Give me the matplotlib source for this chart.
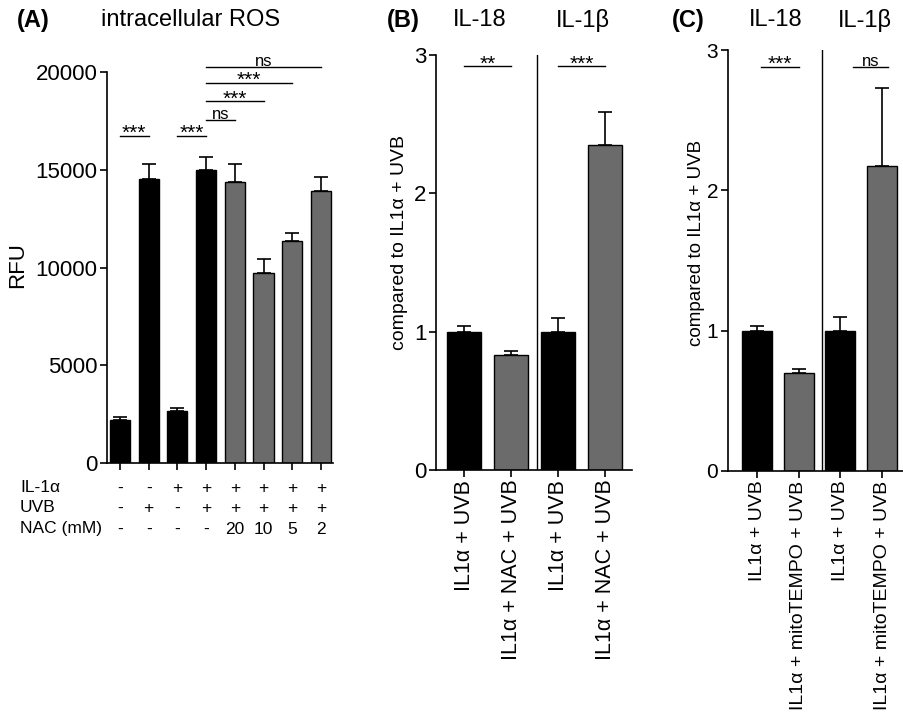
import matplotlib
matplotlib.use("Agg")
import matplotlib.pyplot as plt
import matplotlib.transforms as mtransforms

plt.rcParams["font.family"] = ["Liberation Sans", "DejaVu Sans"]

# panel A: intracellular ROS
ros_mean = [2200, 14550, 2650, 15000, 14350, 9700, 11350, 13900]
ros_err = [150, 750, 150, 650, 950, 750, 400, 750]
ros_colors = ["black"] * 4 + ["#6b6b6b"] * 4
il1a_row = ["-", "-", "+", "+", "+", "+", "+", "+"]
uvb_row = ["-", "+", "-", "+", "+", "+", "+", "+"]
nac_row = ["-", "-", "-", "-", "20", "10", "5", "2"]
row_names = ["IL-1α", "UVB", "NAC (mM)"]
# (start bar, end bar, height, label)
ros_sig = [(0, 1, 16750, "***"), (2, 3, 16750, "***"), (3, 4, 17550, "ns"),
           (3, 5, 18500, "***"), (3, 6, 19450, "***"), (3, 7, 20250, "ns")]

# panel B: NAC
nac_labels = ["IL1α + UVB", "IL1α + NAC + UVB", "IL1α + UVB", "IL1α + NAC + UVB"]
nac_mean = [1.0, 0.83, 1.0, 2.35]
nac_err = [0.04, 0.03, 0.10, 0.24]
nac_sig = [(0, 1, 2.92, "**"), (2, 3, 2.92, "***")]

# panel C: mitoTEMPO
mito_labels = ["IL1α + UVB", "IL1α + mitoTEMPO + UVB", "IL1α + UVB", "IL1α + mitoTEMPO + UVB"]
mito_mean = [1.0, 0.70, 1.0, 2.17]
mito_err = [0.03, 0.03, 0.10, 0.56]
mito_sig = [(0.1, 1.0, 2.88, "***"), (2.3, 3.15, 2.88, "ns")]

cyto_names = ["IL-18", "IL-1β"]
pair_colors = ["black", "#6b6b6b", "black", "#6b6b6b"]

W, H = 904, 715
fig = plt.figure(figsize=(W / 100, H / 100), dpi=100)


def px_axes(x0, x1, y_top, y_bot):
    return fig.add_axes([x0 / W, 1 - y_bot / H, (x1 - x0) / W, (y_bot - y_top) / H])


def fig_text(x, y, s, **kw):
    fig.text(x / W, 1 - y / H, s, **kw)


def style_axes(ax, ysize):
    for side in ["top", "right"]:
        ax.spines[side].set_visible(False)
    for side in ["left", "bottom"]:
        ax.spines[side].set_linewidth(1.2)
    ax.tick_params(width=1.2, length=5, pad=2)
    ax.tick_params(axis="y", labelsize=ysize)


def draw_bars(ax, means, errs, colors, width):
    x = list(range(len(means)))
    ax.bar(x, means, width=width, color=colors, edgecolor="black", linewidth=1.0, zorder=2)
    ax.errorbar(x, means, yerr=[[0] * len(errs), errs], fmt="none", ecolor="black",
                elinewidth=1.2, capsize=5, capthick=1.2, zorder=1)


def draw_sig(ax, items):
    for a, b, y, label in items:
        ax.plot([a, b], [y, y], color="black", lw=1.0, clip_on=False)
        if label == "ns":
            size, shift = 12, 0.8
        else:
            size, shift = 15, -2.5
        ax.annotate(label, xy=((a + b) / 2, y), xytext=(0, shift), textcoords="offset points",
                    ha="center", va="baseline", fontsize=size, annotation_clip=False)


# ---- panel A
axA = px_axes(107, 333, 72, 463)
draw_bars(axA, ros_mean, ros_err, ros_colors, 0.7)
axA.set_xlim(-0.45, 7.42)
axA.set_ylim(0, 20000)
axA.set_yticks([0, 5000, 10000, 15000, 20000])
axA.set_xticks(range(len(ros_mean)))
axA.set_xticklabels([])
style_axes(axA, 16)
draw_sig(axA, ros_sig)

trans = mtransforms.blended_transform_factory(axA.transData, fig.transFigure)
for row_y, name, values in zip([488, 508, 529], row_names, [il1a_row, uvb_row, nac_row]):
    fig_text(20, row_y, name, fontsize=12.5, va="center", ha="left")
    for i, v in enumerate(values):
        axA.text(i, 1 - row_y / H, v, transform=trans, fontsize=12.5, va="center", ha="center")

fig_text(18, 265, "RFU", fontsize=16, rotation=90, va="center", ha="center")
fig_text(33, 20, "(A)", fontsize=17, fontweight="bold", va="center", ha="center")
fig_text(191, 20, "intracellular ROS", fontsize=17, va="center", ha="center")


# ---- panels B and C
def cyto_panel(x0, x1, y_top, y_bot, xlim, means, errs, labels, sig, tag, tag_x,
               name_x, ylab_x, size, ysize, ylab_size):
    ax = px_axes(x0, x1, y_top, y_bot)
    draw_bars(ax, means, errs, pair_colors, 0.72)
    ax.set_xlim(*xlim)
    ax.set_ylim(0, 3)
    ax.set_yticks([0, 1, 2, 3])
    ax.set_xticks(range(len(means)))
    ax.set_xticklabels(labels, rotation=90, fontsize=size)
    style_axes(ax, ysize)
    ax.axvline(1.55, ymin=0, ymax=1, color="black", lw=1.0)
    draw_sig(ax, sig)
    fig_text(tag_x, 20, tag, fontsize=17, fontweight="bold", va="center", ha="center")
    for nx, nm in zip(name_x, cyto_names):
        fig_text(nx, 20, nm, fontsize=17, va="center", ha="center")
    fig_text(ylab_x, 243, "compared to IL1α + UVB", fontsize=ylab_size,
             rotation=90, va="center", ha="center")
    return ax


cyto_panel(436, 632, 55, 470, (-0.6, 3.57), nac_mean, nac_err, nac_labels, nac_sig,
           "(B)", 403, [480, 583], 400, 15.5, 16, 14)
cyto_panel(728, 903, 50, 471, (-0.7, 3.5), mito_mean, mito_err, mito_labels, mito_sig,
           "(C)", 688, [776, 865], 697, 14, 15, 13.5)

fig.savefig("out.png", dpi=100)
